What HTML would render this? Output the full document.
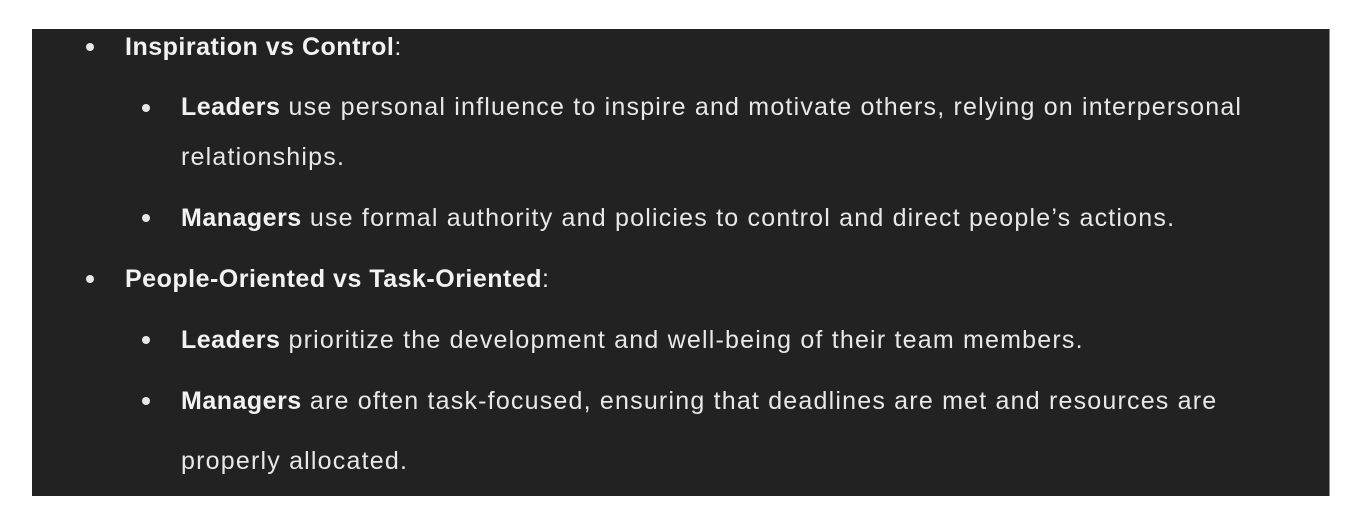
<!DOCTYPE html>
<html><head><meta charset="utf-8"><style>
html,body{margin:0;padding:0;background:#fff;width:1369px;height:528px;overflow:hidden}
#box{position:absolute;left:32px;top:29px;width:1297px;height:467px;background:#222;border-right:1px solid #888}
.l{position:absolute;color:#e8e8e8;font-family:"Liberation Sans",sans-serif;font-size:25px;line-height:30px;letter-spacing:1.2px;white-space:nowrap}
.l b{color:#f2f2f2;letter-spacing:0.5px}
.d{position:absolute;width:8px;height:8px;border-radius:50%;background:#e8e8e8}
</style></head><body>
<div id="box"></div>
<div class="d" style="left:86px;top:43px"></div>
<div class="l" style="left:125px;top:32px"><b>Inspiration vs Control</b>:</div>
<div class="d" style="left:142px;top:104px"></div>
<div class="l" style="left:181px;top:92px"><b>Leaders</b> use personal influence to inspire and motivate others, relying on interpersonal</div>
<div class="l" style="left:181px;top:142px">relationships.</div>
<div class="d" style="left:142px;top:214px"></div>
<div class="l" style="left:181px;top:203px"><b>Managers</b> use formal authority and policies to control and direct people’s actions.</div>
<div class="d" style="left:86px;top:275px"></div>
<div class="l" style="left:125px;top:264px"><b>People-Oriented vs Task-Oriented</b>:</div>
<div class="d" style="left:142px;top:336px"></div>
<div class="l" style="left:181px;top:325px"><b>Leaders</b> prioritize the development and well-being of their team members.</div>
<div class="d" style="left:142px;top:397px"></div>
<div class="l" style="left:181px;top:386px"><b>Managers</b> are often task-focused, ensuring that deadlines are met and resources are</div>
<div class="l" style="left:181px;top:446px">properly allocated.</div>
</body></html>
